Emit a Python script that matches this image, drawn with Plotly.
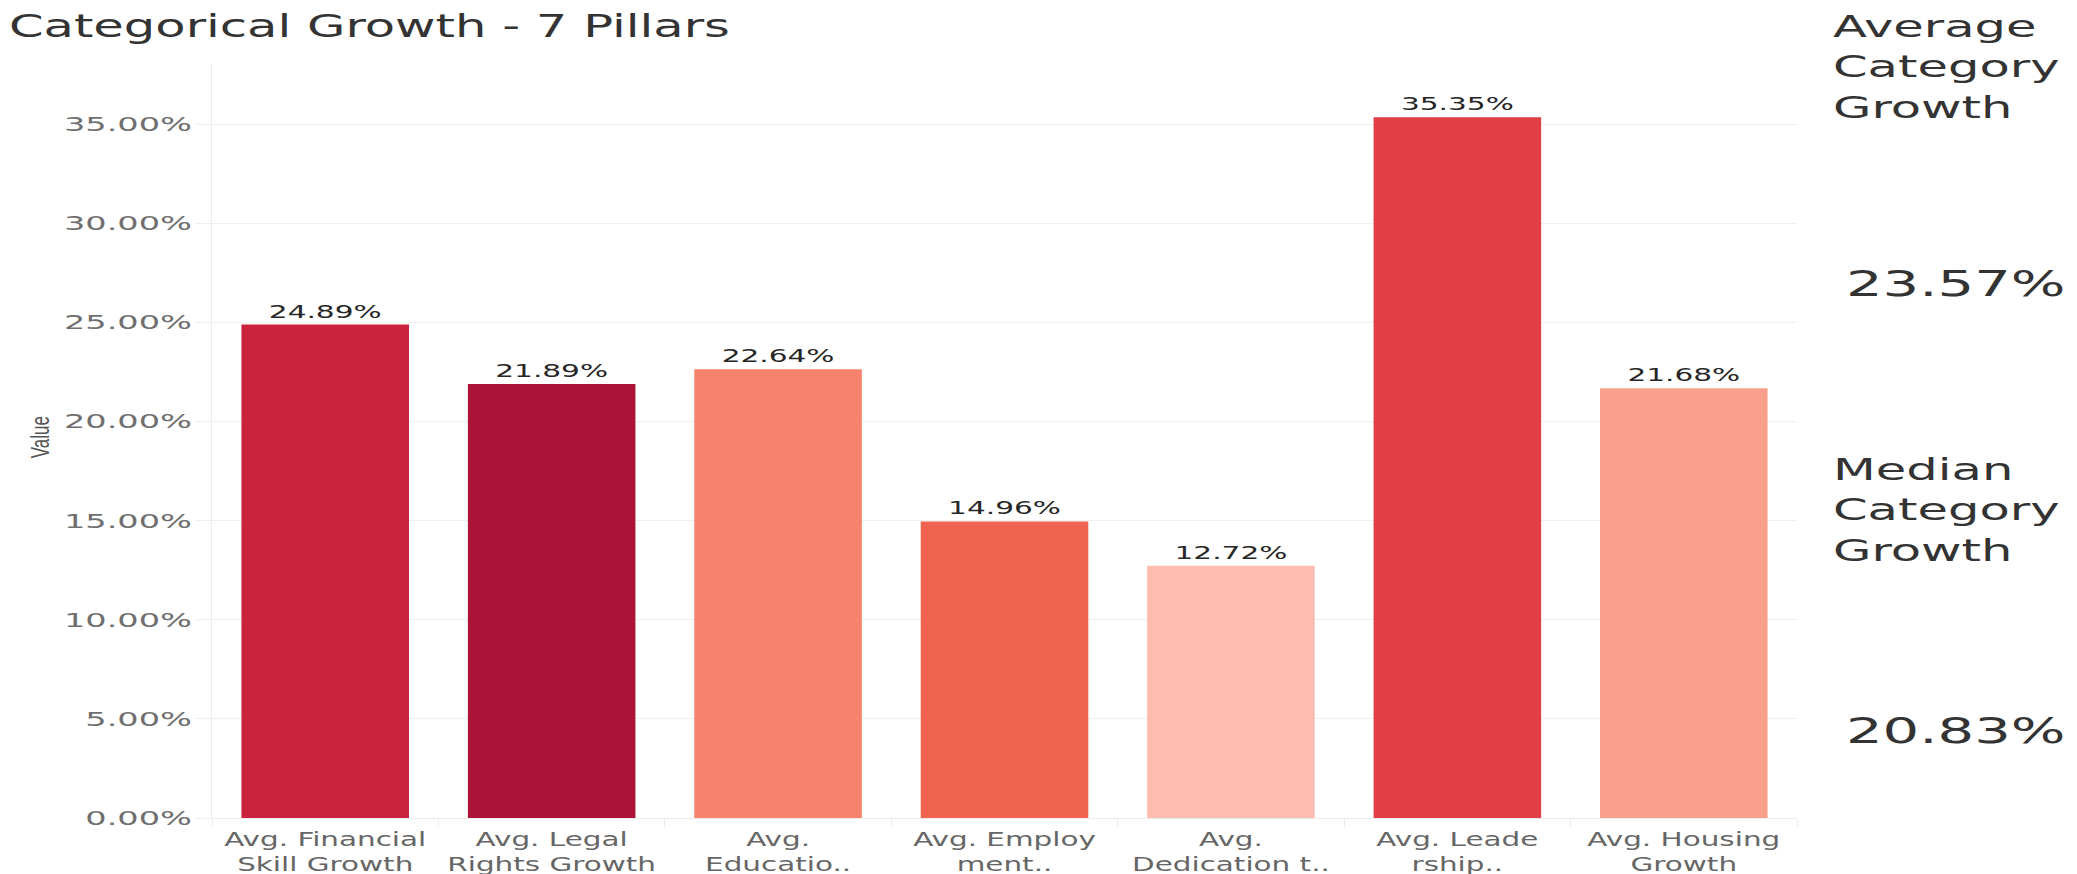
import plotly.graph_objects as go

# ---- data ----
categories = [
    "Avg. Financial<br>Skill Growth",
    "Avg. Legal<br>Rights Growth",
    "Avg.<br>Educatio..",
    "Avg. Employ<br>ment..",
    "Avg.<br>Dedication t..",
    "Avg. Leade<br>rship..",
    "Avg. Housing<br>Growth",
]
values = [0.2489, 0.2189, 0.2264, 0.1496, 0.1272, 0.3535, 0.2168]
bar_colors = ["#C9233D", "#AC1337", "#F7826D", "#EF6350", "#FCBCB0", "#E23E46", "#F8A08C"]
tick_vals = [0.0, 0.05, 0.10, 0.15, 0.20, 0.25, 0.30, 0.35]
summary_labels = ["Average<br>Category<br>Growth", "Median<br>Category<br>Growth"]
summary_values = ["23.57%", "20.83%"]

FONT = "DejaVu Sans, Verdana, sans-serif"

fig = go.Figure()
fig.add_trace(go.Bar(
    x=categories,
    y=values,
    marker=dict(color=bar_colors, line=dict(width=0)),
    texttemplate="%{y:.2%}",
    textposition="outside",
    textfont=dict(family=FONT, size=18.5, color="#262626"),
    cliponaxis=False,
    hoverinfo="skip",
))

annotations = []
label_y = [0.9973, 0.4085]
value_y = [0.7095, 0.1167]
for lab, val, ly, vy in zip(summary_labels, summary_values, label_y, value_y):
    annotations.append(dict(
        text=lab, xref="paper", yref="paper", x=1.0215, y=ly,
        xanchor="left", yanchor="middle", align="left", showarrow=False,
        font=dict(family=FONT, size=31, color="#333333"),
    ))
    annotations.append(dict(
        text=val, xref="paper", yref="paper", x=1.0297, y=vy,
        xanchor="left", yanchor="middle", align="left", showarrow=False,
        font=dict(family=FONT, size=36, color="#333333"),
    ))
annotations.append(dict(
    text="Value", xref="paper", yref="paper", x=-0.1085, y=0.505,
    xanchor="center", yanchor="middle", textangle=-90, showarrow=False,
    font=dict(family="Liberation Sans Narrow, Liberation Sans, Arial, sans-serif", size=17, color="#555555"),
))

fig.update_layout(
    width=2077, height=874,
    margin=dict(l=212, r=280, t=64, b=56, autoexpand=False),
    paper_bgcolor="white", plot_bgcolor="white",
    showlegend=False,
    bargap=0.26,
    title=dict(
        text="Categorical Growth - 7 Pillars",
        xref="container", yref="container", x=0.0043, y=0.970,
        xanchor="left", yanchor="middle",
        font=dict(family=FONT, size=32, color="#333333"),
    ),
    xaxis=dict(
        type="category",
        showgrid=False, zeroline=False, showline=False,
        ticks="outside", tickson="boundaries", ticklen=8, tickcolor="#ececec",
        ticklabelstandoff=8,
        tickfont=dict(family=FONT, size=19, color="#666666"),
        automargin=False,
    ),
    yaxis=dict(
        range=[0, 0.3803],
        tickvals=tick_vals, tickformat=".2%",
        showgrid=True, gridcolor="#efefef", gridwidth=1,
        zeroline=True, zerolinecolor="#ececec", zerolinewidth=1,
        showline=True, linecolor="#ececec", linewidth=1,
        ticks="outside", ticklen=15, tickcolor="#efefef",
        tickfont=dict(family=FONT, size=20, color="#6f6f6f"),
        automargin=False,
    ),
    annotations=annotations,
)

# Page without body margin + horizontal stretch of text to mimic the reference's wide lettering
post_script = """
document.body.style.margin = '0';
document.body.style.overflow = 'hidden';
var gd = document.getElementById('{plot_id}');
var rules = [
  ['text.gtitle', 1.55],
  ['g.ytick text', 1.68],
  ['g.xtick text', 1.55],
  ['text.bartext', 1.6],
  ['text.annotation-text', 1.6]
];
function rotAngle(t){
  var g = t.closest('.annotation-text-g');
  if (!g) return 0;
  var m = /rotate\\(\\s*(-?[\\d.]+)/.exec(g.getAttribute('transform') || '');
  return m ? parseFloat(m[1]) : 0;
}
function stretchTexts(){
  rules.forEach(function(r){
    gd.querySelectorAll(r[0]).forEach(function(t){
      var cur = t.getAttribute('transform') || '';
      var base = (t.getAttribute('data-applied') === cur && t.hasAttribute('data-otf')) ? t.getAttribute('data-otf') : cur;
      var X = parseFloat(t.getAttribute('x')) || 0;
      var Y = parseFloat(t.getAttribute('y')) || 0;
      var tf;
      if (Math.abs(rotAngle(t)) > 0.01) {
        var fs = parseFloat(t.style.fontSize) || 16;
        var Yc = Y - 0.35 * fs;
        tf = base + ' translate(0,' + Yc + ') scale(1,1.5) translate(0,' + (-Yc) + ')';
      } else {
        tf = base + ' translate(' + X + ',0) scale(' + r[1] + ',1) translate(' + (-X) + ',0)';
      }
      t.setAttribute('data-otf', base);
      t.setAttribute('transform', tf);
      t.setAttribute('data-applied', tf);
    });
  });
}
stretchTexts();
gd.on('plotly_afterplot', stretchTexts);
"""

fig.write_html("out.html", post_script=post_script,
               config={"displayModeBar": False, "staticPlot": True})
